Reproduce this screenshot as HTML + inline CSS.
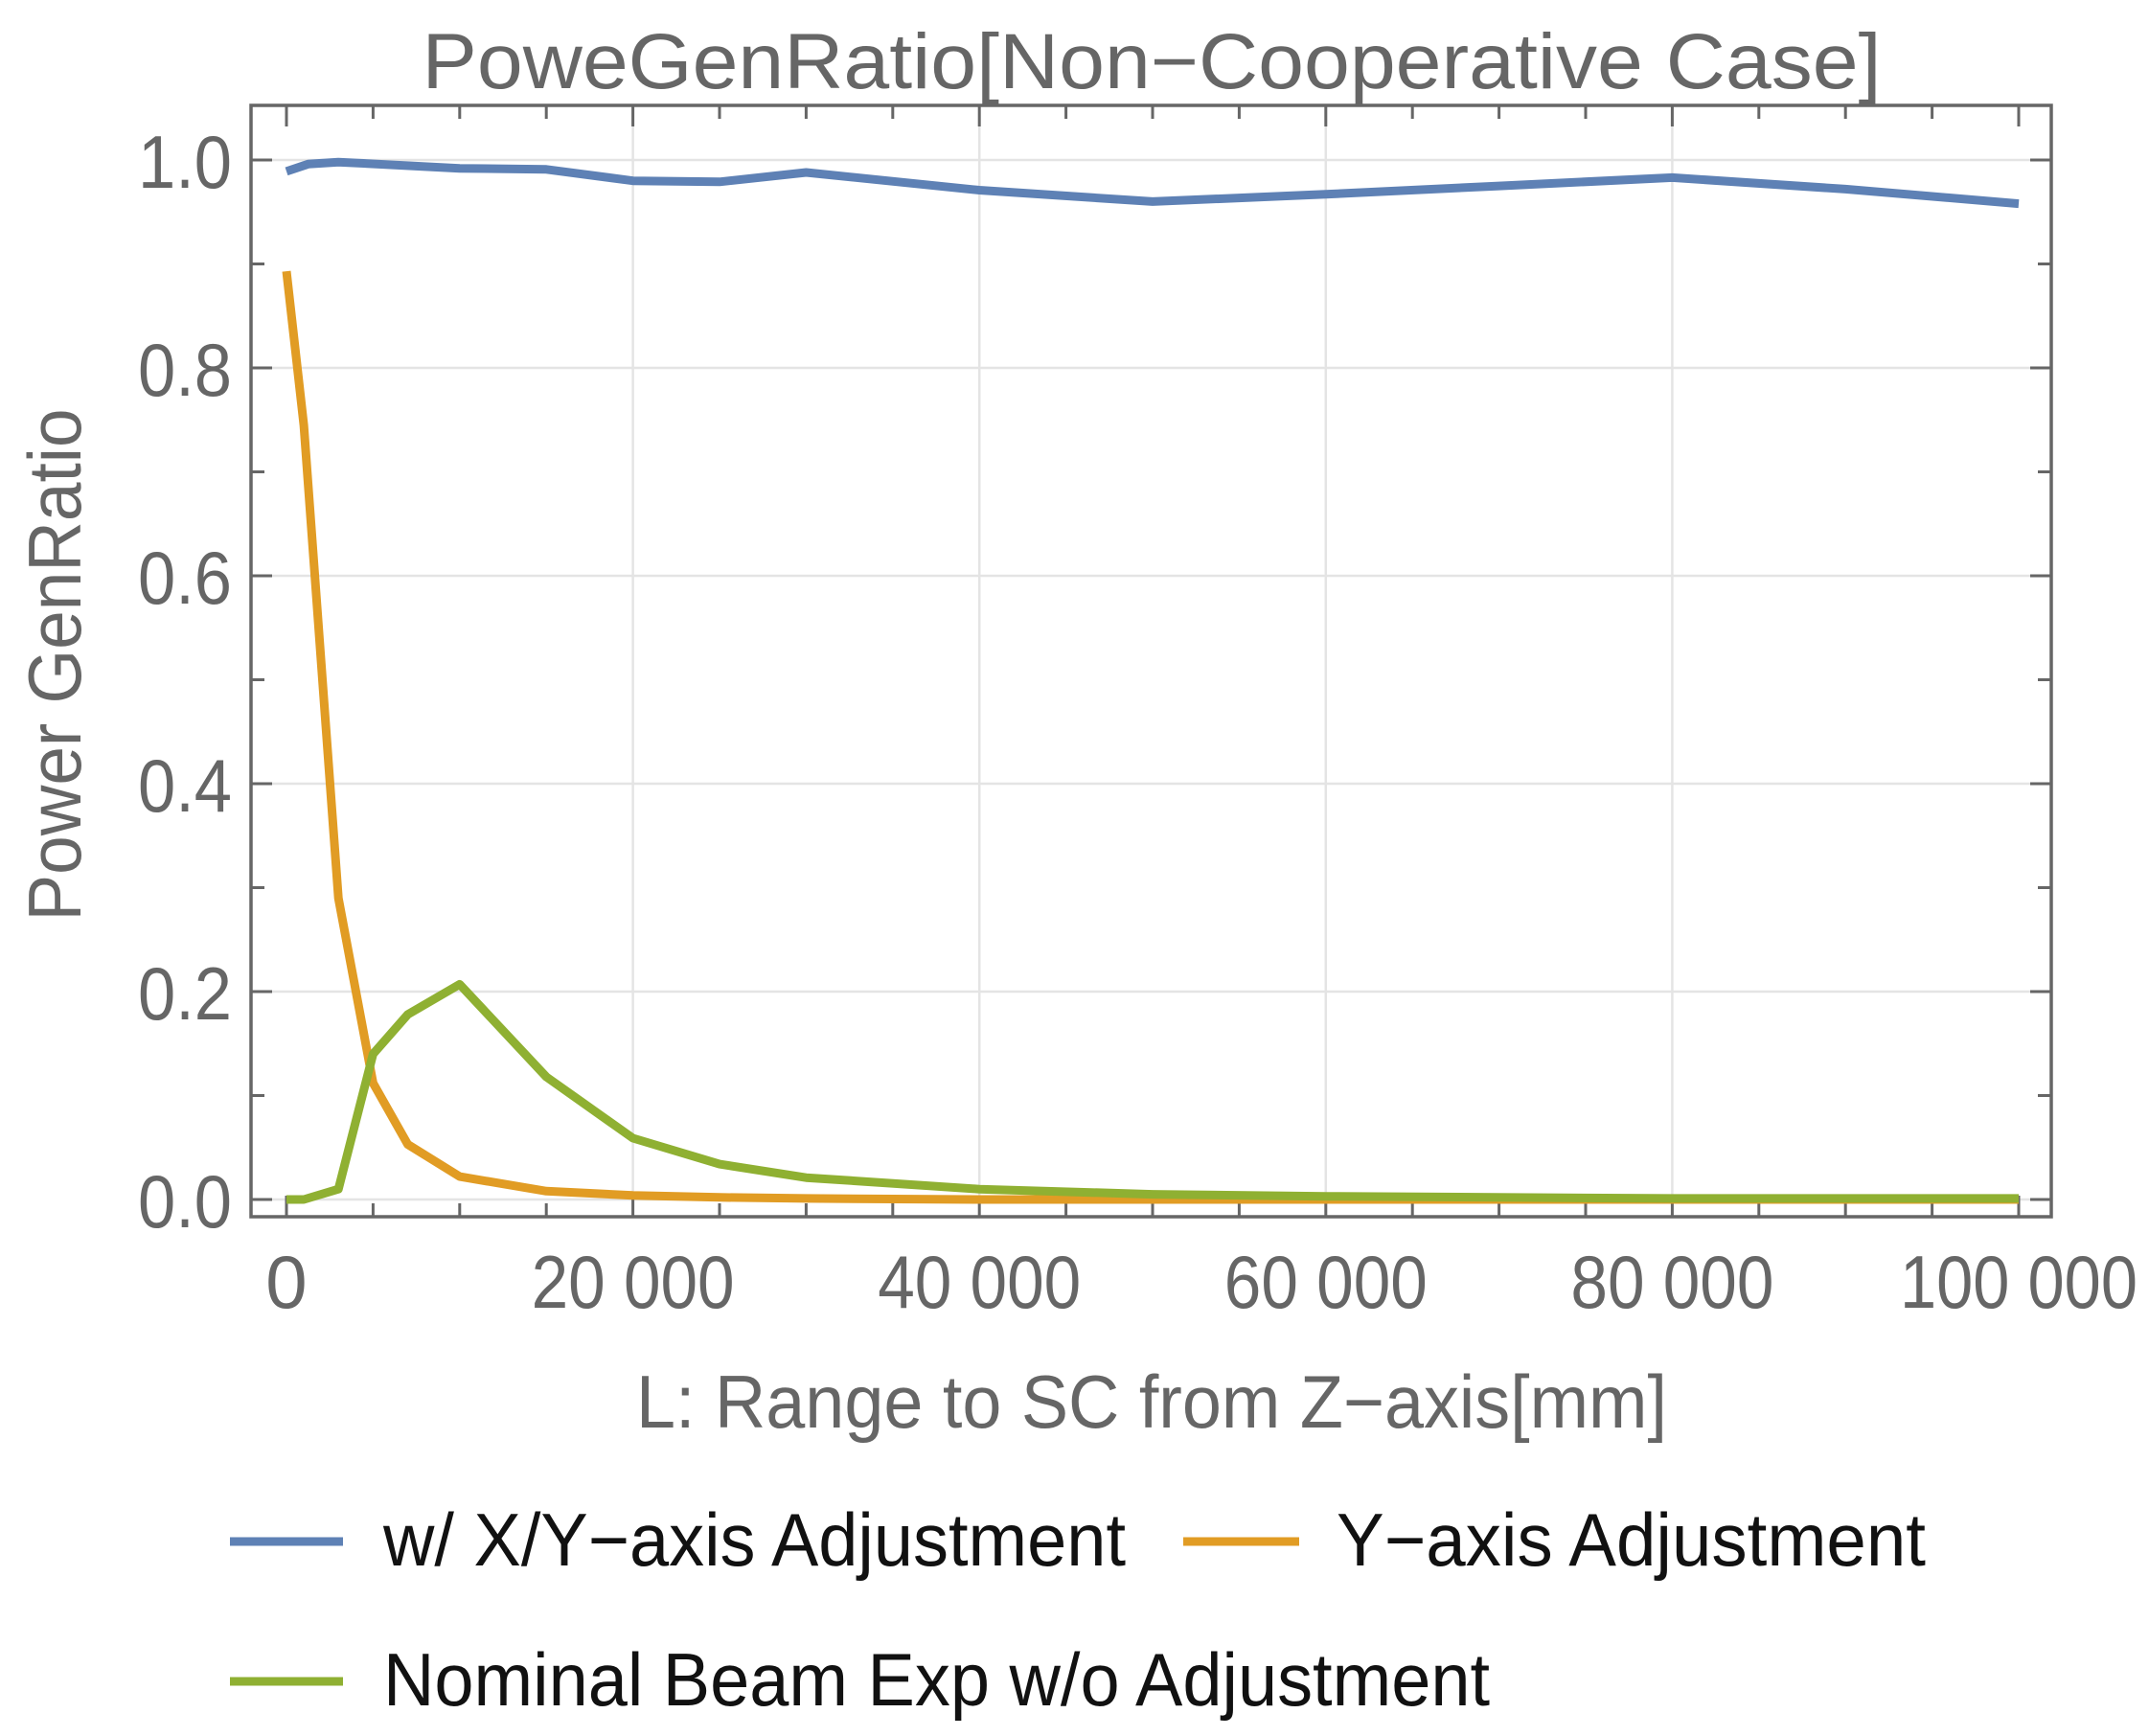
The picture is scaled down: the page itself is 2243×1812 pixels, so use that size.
<!DOCTYPE html>
<html><head><meta charset="utf-8"><style>html,body{margin:0;padding:0;background:#fff}svg{display:block}</style></head>
<body>
<svg id="s" width="2243" height="1812" viewBox="0 0 2243 1812" xmlns="http://www.w3.org/2000/svg" font-family="Liberation Sans, sans-serif">
<rect width="2243" height="1812" fill="#fff"/>
<g stroke="#e4e4e4" stroke-width="2.5">
<line x1="660.6" y1="110" x2="660.6" y2="1270"/><line x1="1022.2" y1="110" x2="1022.2" y2="1270"/>
<line x1="1383.8" y1="110" x2="1383.8" y2="1270"/><line x1="1745.4" y1="110" x2="1745.4" y2="1270"/>
<line x1="262" y1="1252" x2="2141" y2="1252"/><line x1="262" y1="1035" x2="2141" y2="1035"/>
<line x1="262" y1="818" x2="2141" y2="818"/><line x1="262" y1="601" x2="2141" y2="601"/>
<line x1="262" y1="384" x2="2141" y2="384"/><line x1="262" y1="167" x2="2141" y2="167"/>
</g>
<g id="ticks" stroke="#666" stroke-width="3"></g>
<rect x="262" y="110" width="1879" height="1160" fill="none" stroke="#666" stroke-width="3.5"/>
<g fill="none" stroke-width="9" stroke-linejoin="round" stroke-linecap="butt">
<polyline id="pb" stroke="#5E81B5"/>
<polyline id="po" stroke="#E19C24"/>
<polyline id="pg" stroke="#8FB032"/>
</g>
<g fill="#666" font-size="78">
<text x="1202" y="92" text-anchor="middle" font-size="82" textLength="1523" lengthAdjust="spacingAndGlyphs">PoweGenRatio[Non−Cooperative Case]</text>
<text x="242" y="196" text-anchor="end" textLength="98" lengthAdjust="spacingAndGlyphs">1.0</text>
<text x="242" y="413" text-anchor="end" textLength="98" lengthAdjust="spacingAndGlyphs">0.8</text>
<text x="242" y="630" text-anchor="end" textLength="98" lengthAdjust="spacingAndGlyphs">0.6</text>
<text x="242" y="847" text-anchor="end" textLength="98" lengthAdjust="spacingAndGlyphs">0.4</text>
<text x="242" y="1064" text-anchor="end" textLength="98" lengthAdjust="spacingAndGlyphs">0.2</text>
<text x="242" y="1281" text-anchor="end" textLength="98" lengthAdjust="spacingAndGlyphs">0.0</text>
<text x="299" y="1365" text-anchor="middle">0</text>
<text x="660.6" y="1365" text-anchor="middle" textLength="212" lengthAdjust="spacingAndGlyphs">20 000</text>
<text x="1022.2" y="1365" text-anchor="middle" textLength="212" lengthAdjust="spacingAndGlyphs">40 000</text>
<text x="1383.8" y="1365" text-anchor="middle" textLength="212" lengthAdjust="spacingAndGlyphs">60 000</text>
<text x="1745.4" y="1365" text-anchor="middle" textLength="212" lengthAdjust="spacingAndGlyphs">80 000</text>
<text x="2107" y="1365" text-anchor="middle" textLength="248" lengthAdjust="spacingAndGlyphs">100 000</text>
<text x="1202" y="1490" text-anchor="middle" textLength="1076" lengthAdjust="spacingAndGlyphs">L: Range to SC from Z−axis[mm]</text>
<text transform="translate(84,694) rotate(-90)" text-anchor="middle" textLength="535" lengthAdjust="spacingAndGlyphs">Power GenRatio</text>
</g>
<g stroke-width="9">
<line x1="240" y1="1609" x2="358" y2="1609" stroke="#5E81B5"/>
<line x1="1235" y1="1609" x2="1356" y2="1609" stroke="#E19C24"/>
<line x1="240" y1="1755" x2="358" y2="1755" stroke="#8FB032"/>
</g>
<g fill="#111" font-size="78">
<text x="400" y="1634" textLength="775" lengthAdjust="spacingAndGlyphs">w/ X/Y−axis Adjustment</text>
<text x="1395" y="1634" textLength="615" lengthAdjust="spacingAndGlyphs">Y−axis Adjustment</text>
<text x="400" y="1780" textLength="1155" lengthAdjust="spacingAndGlyphs">Nominal Beam Exp w/o Adjustment</text>
</g>
<script>
var X=function(v){return 299+v/100000*1808},Y=function(v){return 1252-v*1085};
function pts(a){return a.map(function(p){return X(p[0]).toFixed(1)+','+Y(p[1]).toFixed(1)}).join(' ')}
document.getElementById('pb').setAttribute('points',pts([[0,.989],[1250,.996],[3000,.998],[10000,.992],[15000,.991],[20000,.980],[25000,.979],[30000,.988],[40000,.971],[50000,.960],[60000,.967],[70000,.975],[80000,.983],[90000,.972],[100000,.958]]));
document.getElementById('po').setAttribute('points',pts([[0,.893],[1000,.745],[3000,.29],[5000,.112],[7000,.053],[10000,.022],[15000,.008],[20000,.004],[25000,.002],[30000,.001],[40000,0],[100000,0]]));
document.getElementById('pg').setAttribute('points',pts([[0,0],[1000,0],[3000,.01],[5000,.14],[7000,.178],[10000,.207],[15000,.118],[20000,.059],[25000,.034],[30000,.021],[40000,.01],[50000,.005],[60000,.003],[80000,.001],[100000,.001]]));
var g=document.getElementById('ticks'),NS='http://www.w3.org/2000/svg';
function ln(a,b,c,d){var e=document.createElementNS(NS,'line');e.setAttribute('x1',a);e.setAttribute('y1',b);e.setAttribute('x2',c);e.setAttribute('y2',d);g.appendChild(e);}
for(var v=0;v<=100000;v+=5000){var x=X(v),L=(v%20000==0)?22:14;ln(x,1270,x,1270-L);ln(x,110,x,110+L);}
for(var i=0;i<=10;i++){var y=Y(i/10),L=(i%2==0)?22:14;ln(262,y,262+L,y);ln(2141,y,2141-L,y);}
</script>
</svg>
</body></html>
